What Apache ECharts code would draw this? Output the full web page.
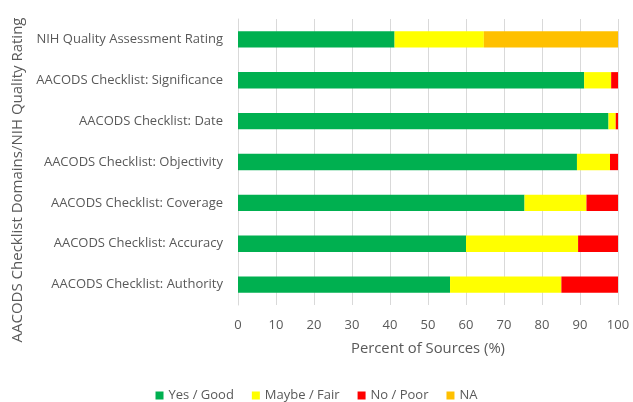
<!DOCTYPE html>
<html>
<head>
<meta charset="utf-8">
<script src="https://cdn.jsdelivr.net/npm/echarts@6/dist/echarts.min.js"></script>
<style>
  html, body { margin: 0; padding: 0; background: #fff; }
  #container { width: 633px; height: 402px; }
</style>
</head>
<body>
<div id="container"></div>
<script>
// categorias de arriba hacia abajo
var categories = [
    'NIH Quality Assessment Rating',
    'AACODS Checklist: Significance',
    'AACODS Checklist: Date',
    'AACODS Checklist: Objectivity',
    'AACODS Checklist: Coverage',
    'AACODS Checklist: Accuracy',
    'AACODS Checklist: Authority'
];
var yesGood   = [41.2, 91.1, 97.5, 89.2, 75.4, 60.0, 55.8];
var maybeFair = [23.5, 7.1, 1.9, 8.7, 16.3, 29.5, 29.3];
var noPoor    = [0, 1.8, 0.6, 2.1, 8.3, 10.5, 14.9];
var na        = [35.3, 0, 0, 0, 0, 0, 0];
var xTicks    = [0, 10, 20, 30, 40, 50, 60, 70, 80, 90, 100];

var font = '"Open Sans", sans-serif';
var textColor = '#595959';

document.addEventListener('DOMContentLoaded', function () {
    var dom = document.getElementById('container');
    var myChart = echarts.init(dom);

    function serie(name, data, color) {
        return {
            name: name,
            type: 'bar',
            stack: 'total',
            barWidth: '40%',
            data: data,
            itemStyle: { color: color },
            emphasis: { disabled: true }
        };
    }

    var option = {
        animation: false,
        textStyle: { fontFamily: font },
        grid: { left: 238, top: 19, width: 380, height: 286 },
        legend: {
            top: 384,
            left: 'center',
            itemWidth: 8,
            itemHeight: 8,
            itemGap: 18,
            icon: 'rect',
            textStyle: { fontFamily: font, fontSize: 13, color: textColor }
        },
        xAxis: {
            type: 'value',
            min: xTicks[0],
            max: xTicks[xTicks.length - 1],
            interval: 10,
            name: 'Percent of Sources (%)',
            nameLocation: 'middle',
            nameGap: 36,
            nameTextStyle: { fontFamily: font, fontSize: 14.8, color: textColor },
            axisLine: { show: false },
            axisTick: { show: false },
            axisLabel: { margin: 14, fontFamily: font, fontSize: 13, color: textColor },
            splitLine: { lineStyle: { color: '#d9d9d9', width: 1 } }
        },
        yAxis: {
            type: 'category',
            inverse: true,
            data: categories,
            name: 'AACODS Checklist Domains/NIH Quality Rating',
            nameLocation: 'middle',
            nameRotate: 90,
            nameGap: 211,
            // desplaza el titulo hacia abajo como en el original
            nameTextStyle: { fontFamily: font, fontSize: 15, color: textColor, padding: [0, 36, 0, 0] },
            axisLine: { lineStyle: { color: '#d9d9d9' } },
            axisTick: { show: false },
            axisLabel: { margin: 15, fontFamily: font, fontSize: 13, color: textColor }
        },
        series: [
            serie('Yes / Good', yesGood, '#00b050'),
            serie('Maybe / Fair', maybeFair, '#ffff00'),
            serie('No / Poor', noPoor, '#ff0000'),
            serie('NA', na, '#ffc000')
        ]
    };

    myChart.setOption(option);
    window.addEventListener('resize', myChart.resize);
});
</script>
</body>
</html>
